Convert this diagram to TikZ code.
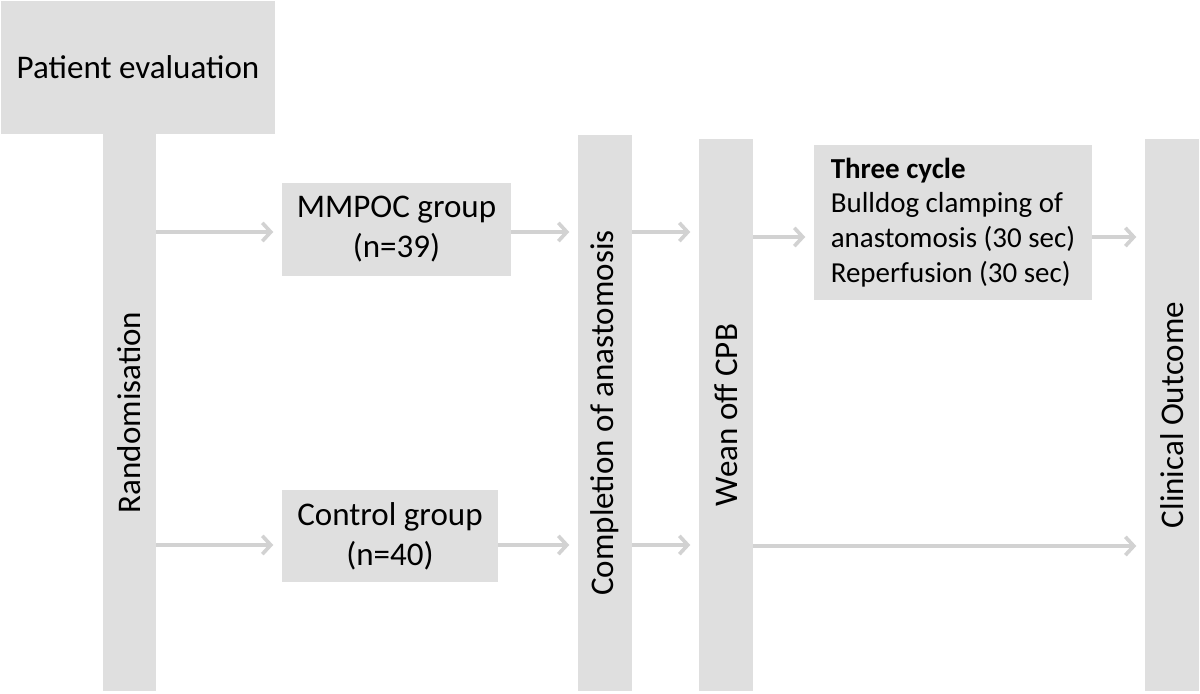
\documentclass[tikz,border=0pt]{standalone}
\usepackage{fontspec}
\setmainfont{Carlito}
\usepackage{graphicx}
\usetikzlibrary{arrows.meta}
\definecolor{boxgray}{HTML}{DFDFDF}
\definecolor{arrowgray}{HTML}{D2D2D2}
\tikzset{
  stage/.style={fill=boxgray, inner sep=0pt, align=center, font=\fontsize{23.5}{28.5}\selectfont},
  bar/.style={stage, minimum width=1.35cm},
  flow/.style={draw=arrowgray, line width=2.6pt, -{Straight Barb[length=6pt,width=13pt]}, shorten >=6pt}
}
\begin{document}
\begin{tikzpicture}[x=0.025cm, y=-0.025cm]
\useasboundingbox (0,0) rectangle (1200,694);
% stages
\node[stage, minimum width=6.85cm, minimum height=3.325cm] (eval) at (138,67.5) {Patient evaluation};
\node[bar, minimum width=1.325cm, minimum height=13.925cm] (rand) at (129.5,412.5) {\rotatebox{90}{Randomisation}};
\node[stage, minimum width=5.725cm, minimum height=2.325cm] (mmpoc) at (396.5,229.5) {MMPOC group\\(n=39)};
\node[stage, minimum width=5.4cm, minimum height=2.3cm] (control) at (390,536) {Control group\\(n=40)};
\node[bar, minimum height=13.9cm] (complete) at (605,413) {\rotatebox{90}{Completion of anastomosis}};
\node[bar, minimum height=13.8cm] (wean) at (726,415) {\rotatebox{90}{Wean off CPB}};
\node[stage, align=left, font=\fontsize{20.6}{24.8}\selectfont, minimum width=6.95cm, minimum height=3.875cm] (cycle) at (953,222.5)
  {\textbf{Three cycle}\\Bulldog clamping of\\anastomosis (30 sec)\\Reperfusion (30 sec)};
\node[bar, minimum height=13.8cm] (clinical) at (1172,415) {\rotatebox{90}{Clinical Outcome}};
% rows of arrows
\coordinate (rowA) at (0,232);
\coordinate (rowA2) at (0,237);
\coordinate (rowB) at (0,545);
\coordinate (rowB2) at (0,546);
\draw[flow] (rand.east |- rowA) -- (mmpoc.west |- rowA);
\draw[flow] (mmpoc.east |- rowA) -- (complete.west |- rowA);
\draw[flow] (complete.east |- rowA) -- (wean.west |- rowA);
\draw[flow] (wean.east |- rowA2) -- (cycle.west |- rowA2);
\draw[flow] (cycle.east |- rowA2) -- (clinical.west |- rowA2);
\draw[flow] (rand.east |- rowB) -- (control.west |- rowB);
\draw[flow] (control.east |- rowB) -- (complete.west |- rowB);
\draw[flow] (complete.east |- rowB) -- (wean.west |- rowB);
\draw[flow] (wean.east |- rowB2) -- (clinical.west |- rowB2);
\end{tikzpicture}
\end{document}
